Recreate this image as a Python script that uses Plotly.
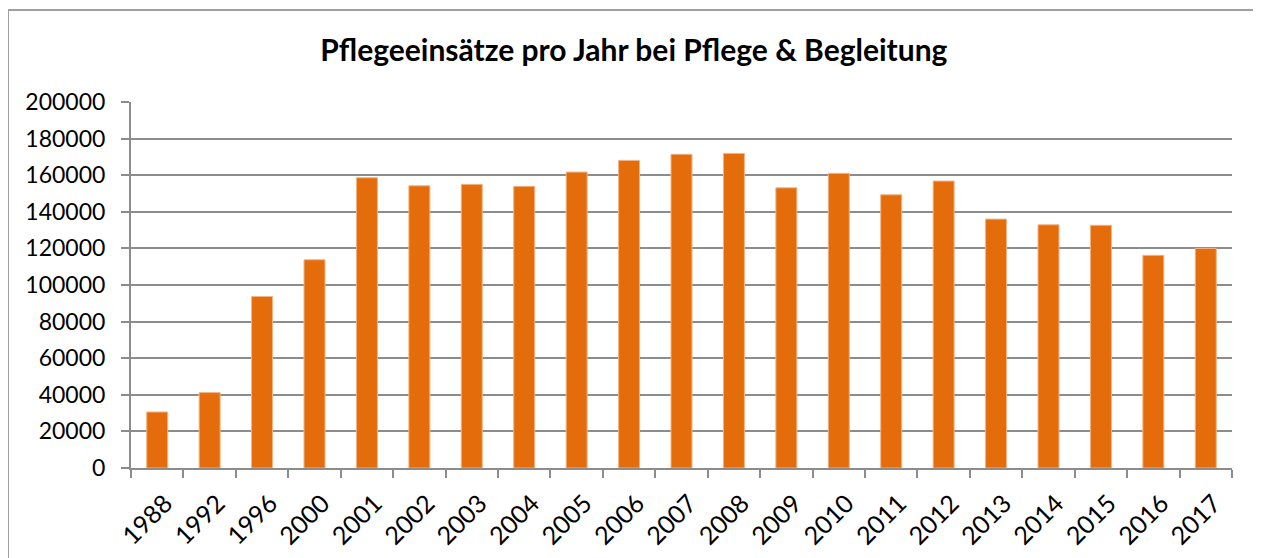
import plotly.graph_objects as go

years = ["1988", "1992", "1996", "2000", "2001", "2002", "2003", "2004", "2005", "2006",
         "2007", "2008", "2009", "2010", "2011", "2012", "2013", "2014", "2015", "2016", "2017"]
einsaetze = [30600, 41200, 93700, 113800, 158600, 154200, 155000, 153900, 161700, 168100,
             171400, 171900, 153100, 161000, 149300, 156800, 136000, 132900, 132600, 116200, 120000]
y_ticks = [0, 20000, 40000, 60000, 80000, 100000, 120000, 140000, 160000, 180000, 200000]

title = "Pflegeeinsätze pro Jahr bei Pflege & Begleitung"
font = "Lato, 'Open Sans', sans-serif"
grey = "#8c8c8c"

# the page body adds 8px on top/left, so the figure is 8px smaller
W, H = 1253, 550
L, R, T, B = 123, 29, 94, 90
pw, ph = W - L - R, H - T - B

fig = go.Figure()
fig.add_trace(go.Bar(
    x=years, y=einsaetze,
    marker=dict(color="#E46C0A", line=dict(color="#F3B383", width=1)),
))

fig.update_layout(
    width=W, height=H,
    margin=dict(l=L, r=R, t=T, b=B),
    paper_bgcolor="white", plot_bgcolor="white",
    bargap=0.6,
    showlegend=False,
    title=dict(text="<b>" + title + "</b>", x=0.4995, xanchor="center",
               y=1 - 42 / H, yanchor="middle", yref="container",
               font=dict(family=font, size=30, color="black")),
    font=dict(family=font, size=23, color="black"),
)

fig.update_xaxes(
    type="category", tickangle=-45, automargin=False,
    showline=True, linecolor=grey, linewidth=2,
    ticks="outside", tickson="boundaries", ticklen=8, tickcolor=grey, tickwidth=2,
    ticklabelstandoff=9, ticklabelshift=8,
    tickfont=dict(size=25),
    showgrid=False,
)
fig.update_yaxes(
    range=[0, 200000], tickvals=y_ticks, ticktext=[str(v) for v in y_ticks],
    automargin=False,
    showline=True, linecolor=grey, linewidth=2,
    ticks="outside", ticklen=8, tickcolor=grey, tickwidth=2,
    ticklabelstandoff=11,
    showgrid=True, gridcolor=grey, gridwidth=2, zeroline=False,
)

# outer chart border
fig.add_shape(type="rect", xref="paper", yref="paper",
              x0=-L / pw, x1=(W - 2 - L) / pw,
              y0=-(B + 20) / ph, y1=(ph + T - 2) / ph,
              line=dict(color="#a0a0a0", width=2), fillcolor="rgba(0,0,0,0)", layer="below")

fig.write_html("out.html")
